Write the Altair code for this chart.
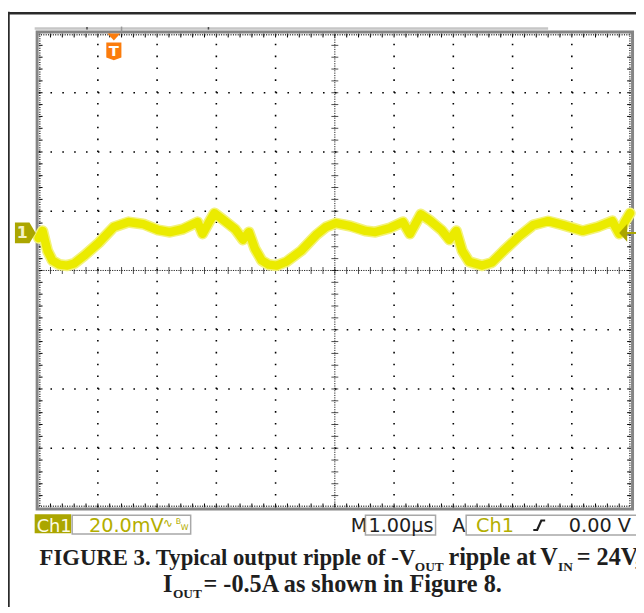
import altair as alt
import pandas as pd

# ---------------- data ----------------
# time in microseconds (1.00 us/div), ripple in mV relative to the Ch1 ground marker (20 mV/div)
time_us = [0.0, 0.067, 0.15, 0.233, 0.35, 0.483, 0.6, 0.767, 1.017, 1.267, 1.517, 1.767,
           2.017, 2.217, 2.433, 2.683, 2.767, 2.867, 2.967, 3.1, 3.317, 3.45, 3.55, 3.65,
           3.767, 3.883, 4.017, 4.183, 4.433, 4.683, 4.85, 5.017, 5.267, 5.517, 5.683, 5.933,
           6.15, 6.267, 6.35, 6.45, 6.6, 6.8, 6.933, 7.05, 7.15, 7.267, 7.483, 7.65, 7.85,
           8.1, 8.35, 8.6, 8.85, 9.183, 9.433, 9.683, 9.8, 9.883, 9.983]
ripple_mv = [-1.7, 0.7, -6.0, -9.3, -10.7, -11.0, -10.3, -7.7, -3.3, 2.0, 3.7, 3.0,
             1.0, 0.3, 1.3, 3.7, -0.3, 3.3, 6.7, 4.7, 1.3, -2.3, 0.3, -5.3,
             -9.3, -10.7, -11.0, -9.7, -6.0, -0.7, 2.0, 3.3, 2.3, 0.7, 0.3, 1.7,
             3.7, -0.3, 2.7, 6.3, 4.3, 1.0, -2.3, 0.7, -6.0, -9.7, -11.0, -10.0, -6.0,
             -1.3, 2.7, 4.0, 2.7, 0.7, 2.0, 4.0, -0.3, 3.3, 6.7]

mv_per_div = 20.0
ch1_offset_div = 0.633      # Ch1 ground marker above screen centre (div)
trigger_pos_us = 1.27       # orange "T" marker position

x_major = [1, 2, 3, 4, 6, 7, 8, 9]
y_major = [-3, -2, -1, 1, 2, 3]
x_minor = [i / 5 for i in range(1, 50)]
y_minor = [i / 5 - 4 for i in range(1, 40)]

scope_labels = {
    "ch": "Ch1", "volts": "20.0mV", "bw_sym": "\u223f", "bw_b": "B", "bw_w": "W",
    "m": "M", "time": "1.00\u00b5s", "a": "A", "trig_ch": "Ch1", "level": "0.00 V",
}
caption1 = ["FIGURE 3. Typical output ripple of -V", "OUT", "ripple at", "V", "IN", "= 24V,"]
caption2 = ["I", "OUT", "= -0.5A as shown in Figure 8."]

# ---------------- styling ----------------
OLIVE = "#aba600"
TEXT_OLIVE = "#b3ae00"
YELLOW = "#ebeb00"
FUZZ = "#f3f27a"
ORANGE = "#fb7c0c"
INK = "#1e1e1e"
SCOPE_FONT = "DejaVu Sans"
CAP_FONT = "Liberation Serif"

xs = alt.Scale(domain=[0, 10], nice=False, zero=False)
ys = alt.Scale(domain=[-4, 4], nice=False, zero=False)
one = pd.DataFrame({"k": [0]})


def XD(v):
    return alt.XDatum(v, scale=xs, axis=None, type="quantitative")


def YD(v):
    return alt.YDatum(v, scale=ys, axis=None, type="quantitative")


def label(txt, x, y, size, color, font=SCOPE_FONT, weight="normal", align="left"):
    return alt.Chart(one).mark_text(
        text=txt, align=align, baseline="alphabetic", font=font, fontSize=size,
        fontWeight=weight, color=color
    ).encode(x=alt.value(x), y=alt.value(y))


def box(x1, x2, y1, y2, fill=None, stroke=None, sw=1.5):
    kw = {}
    if fill is not None:
        kw["fill"] = fill
    else:
        kw["fillOpacity"] = 0
    if stroke is not None:
        kw["stroke"] = stroke
        kw["strokeWidth"] = sw
    return alt.Chart(one).mark_rect(**kw).encode(
        x=alt.value(x1), x2=alt.value(x2), y=alt.value(y1), y2=alt.value(y2))


layers = []

# graticule: dotted major lines
layers.append(alt.Chart(pd.DataFrame({"gx": x_major})).mark_rule(
    color="black", strokeWidth=1.6, strokeDash=[1.6, 10.4]).encode(
    x=alt.X("gx:Q", scale=xs, axis=None), y=YD(-4), y2=alt.Y2Datum(4)))
layers.append(alt.Chart(pd.DataFrame({"gy": y_major})).mark_rule(
    color="black", strokeWidth=1.6, strokeDash=[1.6, 10.4]).encode(
    y=alt.Y("gy:Q", scale=ys, axis=None), x=XD(0), x2=alt.X2Datum(10)))
# centre lines (dense) + minor ticks
layers.append(alt.Chart(one).mark_rule(color="#222", strokeWidth=1, strokeDash=[1.2, 1.2]).encode(
    x=XD(5), y=YD(-4), y2=alt.Y2Datum(4)))
layers.append(alt.Chart(one).mark_rule(color="#222", strokeWidth=1, strokeDash=[1.2, 1.2]).encode(
    y=YD(0), x=XD(0), x2=alt.X2Datum(10)))
layers.append(alt.Chart(pd.DataFrame({"mx": x_minor})).mark_tick(
    orient="vertical", size=7, thickness=1, color="black").encode(
    x=alt.X("mx:Q", scale=xs, axis=None), y=YD(0)))
layers.append(alt.Chart(pd.DataFrame({"my": y_minor})).mark_tick(
    orient="horizontal", size=7, thickness=1, color="black").encode(
    y=alt.Y("my:Q", scale=ys, axis=None), x=XD(5)))
# border ticks
for y1, y2 in [(0, 4), (480, 476)]:
    layers.append(alt.Chart(pd.DataFrame({"mx": x_minor})).mark_rule(color="black", strokeWidth=1).encode(
        x=alt.X("mx:Q", scale=xs, axis=None), y=alt.value(y1), y2=alt.value(y2)))
for x1, x2 in [(0, 4), (600, 596)]:
    layers.append(alt.Chart(pd.DataFrame({"my": y_minor})).mark_rule(color="black", strokeWidth=1).encode(
        y=alt.Y("my:Q", scale=ys, axis=None), x=alt.value(x1), x2=alt.value(x2)))
# dense ruler just inside the border
for (xa, xb, ya, yb) in [(0, 600, 1.2, 1.2), (0, 600, 478.8, 478.8), (1.2, 1.2, 0, 480), (598.8, 598.8, 0, 480)]:
    layers.append(alt.Chart(one).mark_rule(color="#333", strokeWidth=1.5, strokeDash=[1, 1.4]).encode(
        x=alt.value(xa), x2=alt.value(xb), y=alt.value(ya), y2=alt.value(yb)))
# grey screen border
layers.append(box(-1.5, 601.5, -1.5, 481.5, stroke="#858585", sw=3))
# record-length bar above screen
layers.append(alt.Chart(one).mark_rule(color="#c6c6c6", strokeWidth=2.5).encode(
    x=alt.value(-4), x2=alt.value(516), y=alt.value(-5)))
for xv in [49, 172]:
    layers.append(alt.Chart(one).mark_rule(color="#444", strokeWidth=1.5).encode(
        x=alt.value(xv), y=alt.value(-6.5), y2=alt.value(-4)))
layers.append(alt.Chart(one).mark_rule(color="#999", strokeWidth=1.5).encode(
    x=alt.value(84), y=alt.value(-7), y2=alt.value(-2)))

# waveform (thick fuzzy yellow trace)
wave_df = pd.DataFrame({"t": time_us, "mv": ripple_mv})
wave = alt.Chart(wave_df).transform_calculate(
    div=f"datum.mv / {mv_per_div} + {ch1_offset_div}")
layers.append(wave.mark_line(color=FUZZ, strokeWidth=11.5, strokeJoin="round", strokeCap="round").encode(
    x=alt.X("t:Q", scale=xs, axis=None), y=alt.Y("div:Q", scale=ys, axis=None)))
layers.append(wave.mark_line(color=YELLOW, strokeWidth=8.5, strokeJoin="round", strokeCap="round").encode(
    x=alt.X("t:Q", scale=xs, axis=None), y=alt.Y("div:Q", scale=ys, axis=None)))

# trigger position marker (orange T)
layers.append(alt.Chart(one).mark_point(
    shape="M-1,-0.55L1,-0.55L0,0.55Z", size=169, filled=True, color=ORANGE, opacity=1).encode(
    x=XD(trigger_pos_us), y=alt.value(3.5)))
layers.append(alt.Chart(one).mark_point(
    shape="M-0.85,-1L0.85,-1L0.85,0.7L0,1L-0.85,0.7Z", size=324, filled=True, color=ORANGE, opacity=1).encode(
    x=XD(trigger_pos_us), y=alt.value(18)))
layers.append(alt.Chart(one).mark_text(text="T", font=SCOPE_FONT, fontSize=15, fontWeight="bold",
                                       color="white", baseline="middle", align="center").encode(
    x=XD(trigger_pos_us), y=alt.value(18)))

# Ch1 ground marker (left) and trigger level arrow (right)
layers.append(alt.Chart(one).mark_point(
    shape="M-1,-1L0.4,-1L1,0L0.4,1L-1,1Z", size=441, filled=True, color=OLIVE, opacity=1).encode(
    x=alt.value(-13.5), y=YD(ch1_offset_div)))
layers.append(alt.Chart(one).mark_text(text="1", font=SCOPE_FONT, fontSize=16, fontWeight="bold",
                                       color="#f4f2c8", baseline="middle", align="center").encode(
    x=alt.value(-16.5), y=YD(ch1_offset_div)))
layers.append(alt.Chart(one).mark_point(
    shape="M-0.45,0L0.45,-1L0.45,1Z", size=324, filled=True, color=OLIVE, opacity=1).encode(
    x=alt.value(592), y=YD(ch1_offset_div)))
layers.append(alt.Chart(one).mark_rule(color=OLIVE, strokeWidth=2).encode(
    x=alt.value(595), x2=alt.value(606), y=YD(ch1_offset_div)))

# bottom readout bar
RS = 19.5
RB = 505
layers.append(box(-4, 33, 487, 506, fill=OLIVE))
layers.append(label(scope_labels["ch"], -2, RB, 18, "#fbfbe6"))
layers.append(box(34, 154, 488, 507, stroke="#a8a8a8"))
layers.append(label(scope_labels["volts"], 51, RB, RS, TEXT_OLIVE))
layers.append(label(scope_labels["bw_sym"], 126, RB - 5, 12, TEXT_OLIVE))
layers.append(label(scope_labels["bw_b"], 139, RB - 8, 8, TEXT_OLIVE))
layers.append(label(scope_labels["bw_w"], 144, RB - 2, 8, TEXT_OLIVE))
layers.append(label(scope_labels["m"], 316, RB, RS, INK))
layers.append(box(331, 402, 488, 508, stroke="#a8a8a8"))
layers.append(label(scope_labels["time"], 334, RB, RS, INK))
layers.append(label(scope_labels["a"], 419, RB, RS, INK))
layers.append(box(433, 615, 488, 508, stroke="#a8a8a8"))
layers.append(label(scope_labels["trig_ch"], 443, RB, RS, TEXT_OLIVE))
layers.append(alt.Chart(one).mark_point(
    shape="M-1,0.8L-0.35,0.8L0.35,-0.8L1,-0.8", size=144, filled=False, color=INK,
    strokeWidth=2.2, opacity=1).encode(x=alt.value(507), y=alt.value(498)))
layers.append(label(scope_labels["level"], 537, RB, RS, INK))

# outer page frame
layers.append(alt.Chart(one).mark_rule(color="#2a2a2a", strokeWidth=2.5).encode(
    x=alt.value(-30.5), y=alt.value(-22), y2=alt.value(590)))
layers.append(alt.Chart(one).mark_rule(color="#2a2a2a", strokeWidth=2.5).encode(
    x=alt.value(-31), x2=alt.value(610), y=alt.value(-20.5)))

# caption
CS = 24.5
CS1 = 23
SS = 13.5
B1 = 538
B2 = 566
layers.append(label(caption1[0], 1, B1, CS1, INK, CAP_FONT, "bold"))
layers.append(label(caption1[1], 381, B1 + 6, SS, INK, CAP_FONT, "bold"))
layers.append(label(caption1[2], 415, B1, CS, INK, CAP_FONT, "bold"))
layers.append(label(caption1[3], 508, B1, CS, INK, CAP_FONT, "bold"))
layers.append(label(caption1[4], 526, B1 + 6, SS, INK, CAP_FONT, "bold"))
layers.append(label(caption1[5], 545, B1, CS, INK, CAP_FONT, "bold"))
layers.append(label(caption2[0], 126, B2, CS, INK, CAP_FONT, "bold"))
layers.append(label(caption2[1], 136, B2 + 6, SS, INK, CAP_FONT, "bold"))
layers.append(label(caption2[2], 167, B2, CS, INK, CAP_FONT, "bold"))

chart = alt.layer(*layers).properties(
    width=600, height=480,
    autosize=alt.AutoSizeParams(type="none"),
    padding={"left": 31, "top": 22, "right": 5, "bottom": 97},
    background="white",
).configure_view(strokeWidth=0)

chart.save("out.html", embed_options={"renderer": "svg", "actions": False})
